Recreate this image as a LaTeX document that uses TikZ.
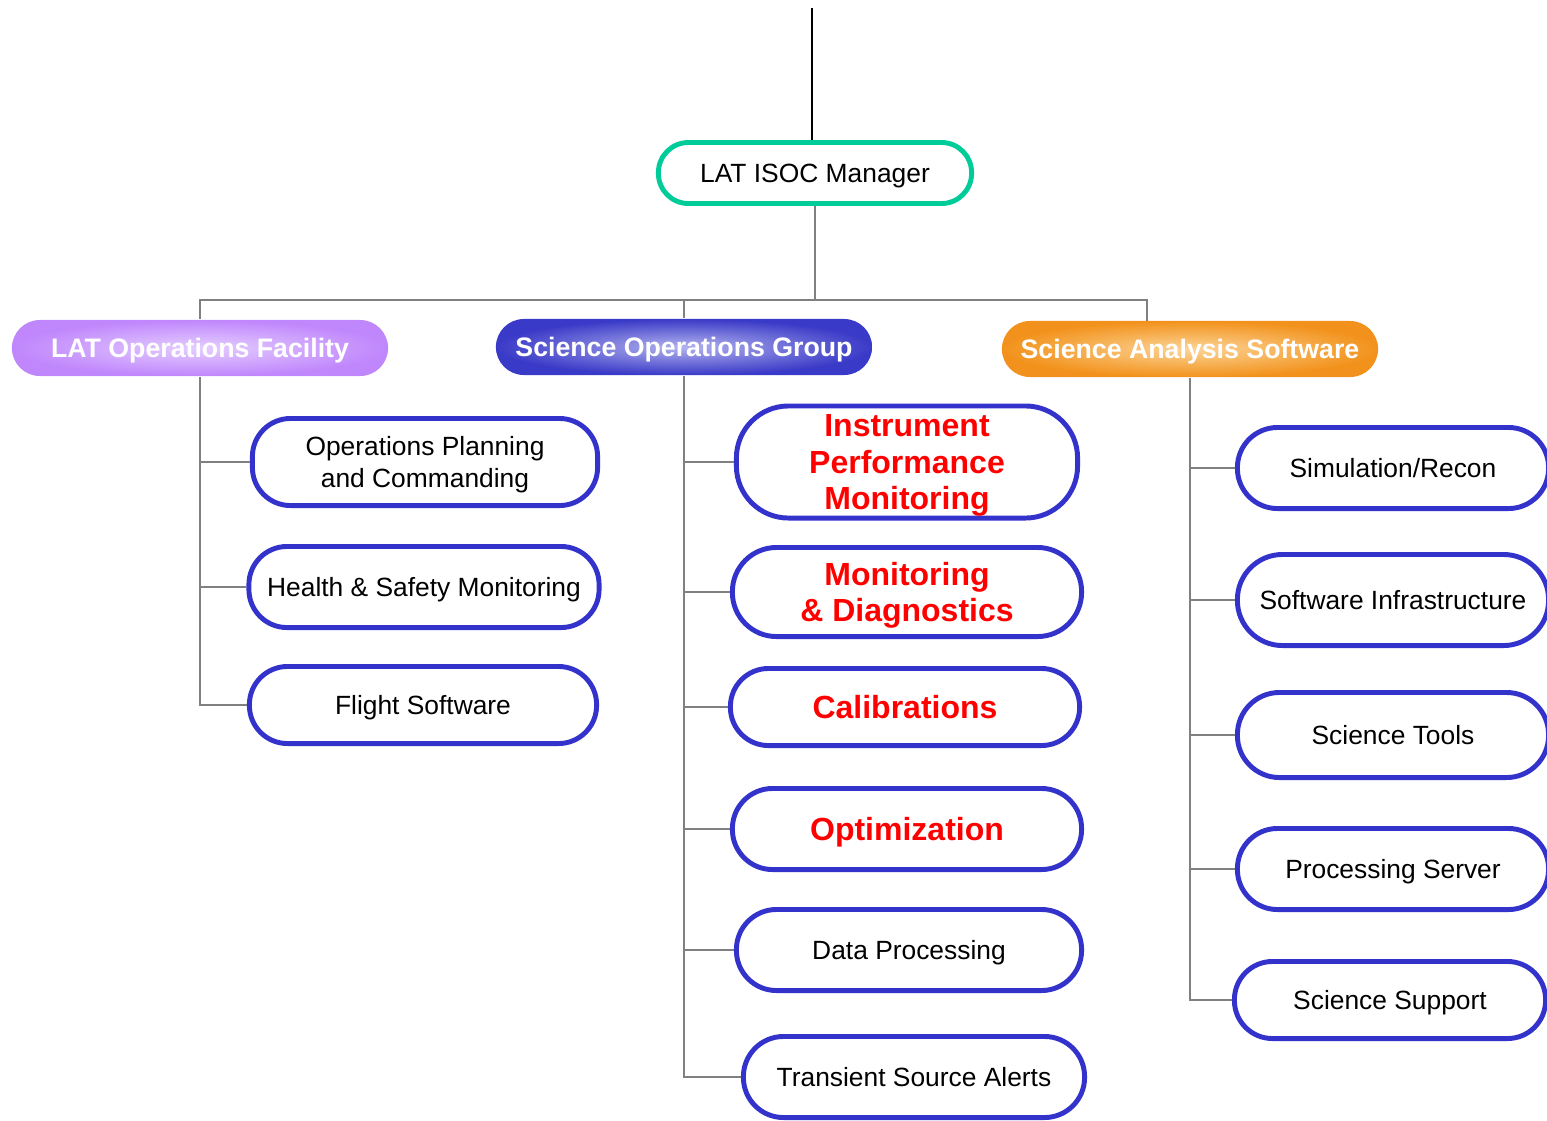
\documentclass[tikz,border=0pt]{standalone}
\usepackage{fontspec}
\setmainfont{Liberation Sans}
\definecolor{isocgreen}{RGB}{0,204,153}
\definecolor{boxblue}{RGB}{51,51,204}
\definecolor{linegray}{RGB}{128,128,128}
\definecolor{lofpurple}{RGB}{192,134,252}
\definecolor{lofglow}{RGB}{228,206,255}
\definecolor{sogblue}{RGB}{58,58,200}
\definecolor{sogglow}{RGB}{178,178,238}
\definecolor{sasorange}{RGB}{242,146,28}
\definecolor{sasglow}{RGB}{252,212,150}
\tikzset{
  pill/.style={rectangle, draw=boxblue, line width=1.4pt, fill=white, rounded corners=#1,
    align=center, inner sep=0pt, text depth=0pt, font=\fontsize{7.5}{9.1}\selectfont},
  pill/.default=0.38cm,
  redpill/.style={pill=#1, text=red, font=\fontsize{9.1}{10.3}\selectfont\bfseries},
  redpill/.default=0.38cm,
  head/.style={rectangle, rounded corners=0.28cm, minimum width=3.76cm, minimum height=0.56cm,
    text depth=0pt, text=white, font=\fontsize{7.6}{9}\selectfont\bfseries, shading=radial},
  conn/.style={draw=linegray, line width=0.6pt},
}
\begin{document}
\begin{tikzpicture}[x=0.01cm, y=-0.01cm]
\useasboundingbox (0,0) rectangle (1547,1120);
% manager
\node[pill=0.3cm, draw=isocgreen, minimum width=3.13cm, minimum height=0.61cm] (mgr) at (815,173) {LAT ISOC Manager};
\coordinate (top) at (812,8);
\draw[line width=0.5pt] (top) -- (top |- mgr.north);
% groups
\node[head, inner color=lofglow, outer color=lofpurple] (lof) at (200,348) {LAT Operations Facility};
\node[head, inner color=sogglow, outer color=sogblue] (sog) at (684,347) {Science Operations Group};
\node[head, inner color=sasglow, outer color=sasorange] (sas) at (1190,349) {Science Analysis Software};
% LAT Operations Facility
\node[pill, minimum width=3.45cm, minimum height=0.87cm] (opc) at (425,462) {Operations Planning\\and Commanding};
\node[pill, minimum width=3.5cm, minimum height=0.81cm] (hsm) at (424,587) {Health \& Safety Monitoring};
\node[pill, minimum width=3.47cm, minimum height=0.77cm] (fsw) at (423,705) {Flight Software};
% Science Operations Group
\node[redpill=0.52cm, minimum width=3.41cm, minimum height=1.12cm] (ipm) at (907,462) {Instrument\\Performance\\Monitoring};
\node[redpill=0.44cm, minimum width=3.49cm, minimum height=0.89cm] (mnd) at (907,592) {Monitoring\\\& Diagnostics};
\node[redpill, minimum width=3.49cm, minimum height=0.77cm] (cal) at (905,707) {Calibrations};
\node[redpill=0.4cm, minimum width=3.49cm, minimum height=0.81cm] (opt) at (907,829) {Optimization};
\node[pill=0.4cm, minimum width=3.45cm, minimum height=0.81cm] (dpr) at (909,950) {Data Processing};
\node[pill=0.4cm, minimum width=3.41cm, minimum height=0.81cm] (tsa) at (914,1077) {Transient Source Alerts};
% Science Analysis Software
\node[pill=0.4cm, minimum width=3.11cm, minimum height=0.81cm] (sim) at (1393,468) {Simulation/Recon};
\node[pill=0.45cm, minimum width=3.11cm, minimum height=0.91cm] (swi) at (1393,600) {Software Infrastructure};
\node[pill=0.42cm, minimum width=3.11cm, minimum height=0.85cm] (stl) at (1393,735) {Science Tools};
\node[pill=0.4cm, minimum width=3.11cm, minimum height=0.81cm] (psv) at (1393,869) {Processing Server};
\node[pill, minimum width=3.11cm, minimum height=0.77cm] (ssp) at (1390,1000) {Science Support};
% tree lines
\coordinate (bus) at (815,300);
\coordinate (sasdrop) at (1147,321);
\draw[conn] (mgr.south) -- (bus);
\draw[conn] (lof.north) |- (bus);
\draw[conn] (sog.north) |- (bus);
\draw[conn] (sasdrop) |- (bus);
\draw[conn] (lof.south) |- (fsw.west);
\foreach \n in {opc,hsm}
  \draw[conn] (lof.south |- \n.west) -- (\n.west);
\draw[conn] (sog.south) |- (tsa.west);
\foreach \n in {ipm,mnd,cal,opt,dpr}
  \draw[conn] (sog.south |- \n.west) -- (\n.west);
\draw[conn] (sas.south) |- (ssp.west);
\foreach \n in {sim,swi,stl,psv}
  \draw[conn] (sas.south |- \n.west) -- (\n.west);
\end{tikzpicture}
\end{document}
